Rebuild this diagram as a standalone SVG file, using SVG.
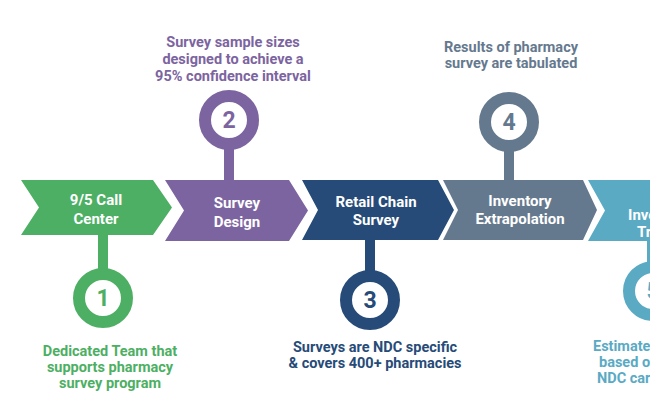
<svg xmlns="http://www.w3.org/2000/svg" width="650" height="418" viewBox="0 0 650 418">
<style>
.lbl{font-family:Roboto,"Liberation Sans",Arial,sans-serif;font-weight:bold;font-size:15px;fill:#fff;text-anchor:middle}
.desc{font-family:Roboto,"Liberation Sans",Arial,sans-serif;font-weight:bold;font-size:14.5px;text-anchor:middle}
.num{font-family:Roboto,"Liberation Sans",Arial,sans-serif;font-weight:bold;font-size:23px;text-anchor:middle}
.ring{fill:#fff;stroke-width:12}
.g{fill:#4DAF63}.gs{stroke:#4DAF63}
.p{fill:#7C64A0}.ps{stroke:#7C64A0}
.n{fill:#264B78}.ns{stroke:#264B78}
.s{fill:#65798E}.ss{stroke:#65798E}
.t{fill:#5AAAC4}.ts{stroke:#5AAAC4}
</style>
<rect width="650" height="418" fill="#fff"/>
<g id="connectors">
<rect class="g" x="98" y="234" width="10" height="36"/>
<rect class="p" x="224" y="148" width="10" height="33"/>
<rect class="n" x="365" y="239" width="10" height="33"/>
<rect class="s" x="504" y="150" width="10" height="31"/>
<rect class="t" x="647" y="240" width="10" height="23"/>
</g>
<g id="step1">
<polygon class="g" points="21,180 153,180 172,207.5 153,235 21,235 39,207.5"/>
<text class="lbl" x="96" y="205">9/5 Call</text>
<text class="lbl" x="96" y="224">Center</text>
<circle class="ring gs" cx="103" cy="298" r="24"/>
<text class="num g" x="103" y="306">1</text>
<text class="desc g" x="110" y="356">Dedicated Team that</text>
<text class="desc g" x="110" y="372">supports pharmacy</text>
<text class="desc g" x="110" y="388">survey program</text>
</g>
<g id="step2">
<polygon class="p" points="165,180 289,180 308,210.5 289,241 165,241 184,210.5"/>
<text class="lbl" x="237" y="208">Survey</text>
<text class="lbl" x="237" y="227">Design</text>
<circle class="ring ps" cx="229" cy="120" r="24"/>
<text class="num p" x="229" y="128">2</text>
<text class="desc p" x="233" y="47">Survey sample sizes</text>
<text class="desc p" x="233" y="64">designed to achieve a</text>
<text class="desc p" x="233" y="81">95% confidence interval</text>
</g>
<g id="step3">
<polygon class="n" points="302,180 438,180 454,210 438,240 302,240 318,210"/>
<text class="lbl" x="376" y="207">Retail Chain</text>
<text class="lbl" x="376" y="225">Survey</text>
<circle class="ring ns" cx="370" cy="300" r="24"/>
<text class="num n" x="370" y="308">3</text>
<text class="desc n" x="375" y="352">Surveys are NDC specific</text>
<text class="desc n" x="375" y="368">&amp; covers 400+ pharmacies</text>
</g>
<g id="step4">
<polygon class="s" points="443,180 583,180 597,210 583,240 443,240 458,210"/>
<text class="lbl" x="520" y="206">Inventory</text>
<text class="lbl" x="520" y="224">Extrapolation</text>
<circle class="ring ss" cx="509" cy="122" r="24"/>
<text class="num s" x="509" y="130">4</text>
<text class="desc s" x="511" y="52">Results of pharmacy</text>
<text class="desc s" x="511" y="68">survey are tabulated</text>
</g>
<g id="step5">
<polygon class="t" points="588,180 670,180 670,241 588,241 605,210.5"/>
<text class="lbl" x="628" y="220" style="text-anchor:start">Inve</text>
<text class="lbl" x="637" y="237" style="text-anchor:start">Tr</text>
<circle class="ring ts" cx="653" cy="291" r="24"/>
<text class="num t" x="653" y="299">5</text>
<text class="desc t" x="593" y="351" style="text-anchor:start">Estimate</text>
<text class="desc t" x="599" y="367" style="text-anchor:start">based o</text>
<text class="desc t" x="597" y="383" style="text-anchor:start">NDC car</text>
</g>
</svg>
